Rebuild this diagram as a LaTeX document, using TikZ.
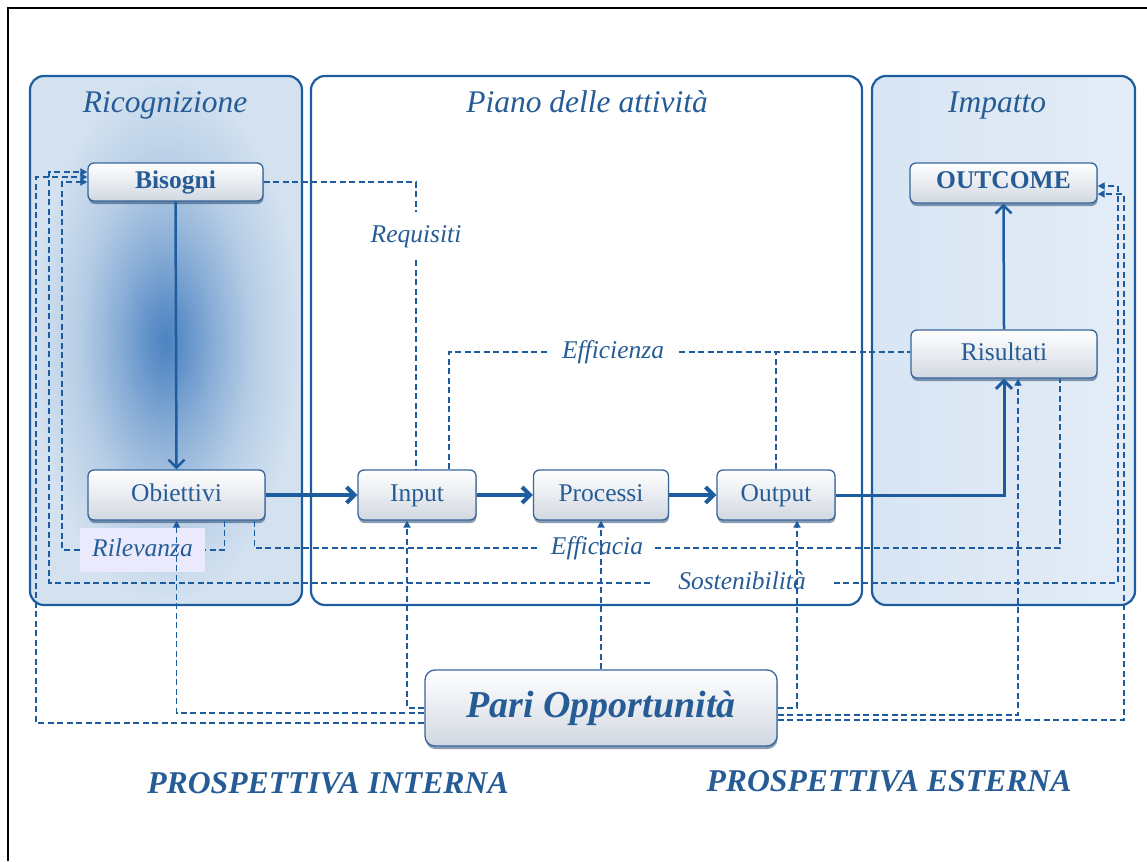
\documentclass[tikz,border=0pt]{standalone}
\usepackage{fontspec}
\setmainfont{Liberation Serif}
\usetikzlibrary{arrows.meta,shadows,calc}
\definecolor{txtblue}{RGB}{38,92,150}
\definecolor{lineblue}{RGB}{30,92,160}
\definecolor{nodeborder}{RGB}{55,100,155}
\definecolor{nodegray}{RGB}{210,216,225}
\definecolor{ricC}{RGB}{78,132,194}
\definecolor{ricE}{RGB}{212,226,240}
\definecolor{impE}{RGB}{216,229,243}
\definecolor{lav}{RGB}{234,234,252}
\pgfdeclareradialshading{ricshade}{\pgfpoint{0bp}{0bp}}{color(0bp)=(ricC); color(3bp)=(ricC!88!ricE); color(9bp)=(ricC!55!ricE); color(16bp)=(ricC!22!ricE); color(25bp)=(ricE); color(50bp)=(ricE)}
\tikzset{
  panel/.style={draw=lineblue, line width=2.2pt, rounded corners=14pt},
  box/.style={draw=nodeborder, line width=1.3pt, rounded corners=6pt, top color=white, bottom color=nodegray,
     inner sep=0pt, text=txtblue, font=\fontsize{25.5}{30}\selectfont, text height=17pt, text depth=5pt,
     drop shadow={shadow xshift=0.5pt, shadow yshift=-3pt, fill=nodeborder!75!black, opacity=0.55}},
  ptitle/.style={text=txtblue, font=\itshape\fontsize{31.5}{36}\selectfont, text height=21pt, text depth=7pt},
  lbl/.style={text=txtblue, font=\itshape\fontsize{25.5}{30}\selectfont, inner ysep=2pt, text height=17pt, text depth=5pt},
  persp/.style={text=txtblue, font=\bfseries\itshape\fontsize{31.7}{36}\selectfont},
  dsh/.style={draw=lineblue, line width=1.8pt, dash pattern=on 6pt off 3.5pt},
  dar/.style={dsh, -{Triangle[length=7pt,width=7pt]}},
  sol/.style={draw=lineblue, line width=2.5pt, -{Straight Barb[length=8pt,width=16pt]}},
  thick/.style={draw=lineblue, line width=4pt, -{Straight Barb[length=8pt,width=16pt]}}
}
\begin{document}
\begin{tikzpicture}[x=1pt,y=-1pt]
\useasboundingbox (0,0) rectangle (1147,861);
% outer frame
\draw[line width=2pt] (8,861) -- (8,8) -- (1147,8);
% panels
\shadedraw[panel, shading=ricshade] (30,76) rectangle (302,605);
\draw[panel, fill=white] (311,76) rectangle (862,605);
\shadedraw[panel, left color=impE, middle color=white, right color=impE!70!white] (872,76) rectangle (1135,605);
\node[ptitle] (tRic) at (165,106) {Ricognizione};
\node[ptitle] (tPia) at (587,106) {Piano delle attività};
\node[ptitle] (tImp) at (997,106) {Impatto};
% boxes
\node[box, font=\bfseries\fontsize{25.5}{30}\selectfont, minimum width=175pt, minimum height=38pt] (Bis) at (175.5,182) {Bisogni};
\node[box, minimum width=177pt, minimum height=50pt] (Obi) at (176.5,495) {Obiettivi};
\node[box, minimum width=118pt, minimum height=50pt] (Inp) at (417,495) {Input};
\node[box, minimum width=135pt, minimum height=50pt] (Pro) at (601,495) {Processi};
\node[box, minimum width=118pt, minimum height=50pt] (Out) at (776,495) {Output};
\node[box, minimum width=186pt, minimum height=48pt] (Ris) at (1004,354) {Risultati};
\node[box, font=\bfseries\fontsize{25.5}{30}\selectfont, minimum width=187pt, minimum height=40pt] (Outc) at (1003.5,183) {OUTCOME};
\node[box, font=\bfseries\itshape\fontsize{38}{44}\selectfont, text height=26pt, text depth=8pt, minimum width=352pt, minimum height=76pt, rounded corners=10pt] (Pari) at (601,708) {Pari Opportunità};
% labels
\node[lbl, minimum height=48pt] (lReq) at (416,236) {Requisiti};
\node[lbl, inner xsep=15pt] (lEff) at (613,352) {Efficienza};
\node[lbl, inner xsep=12pt] (lEfc) at (597,548) {Efficacia};
\node[lbl, inner xsep=28pt] (lSos) at (742,583) {Sostenibilità};
\node[lbl, fill=lav, minimum width=125pt, minimum height=44pt, inner sep=0pt] (lRil) at (142.5,550) {Rilevanza};
% dashed relations
\draw[dsh] (Bis.east) -| (lReq.north);
\draw[dsh] (lReq.south) -- (lReq.south |- Inp.north);
\draw[dsh] ($(Inp.north)+(32,0)$) |- (lEff.west);
\draw[dsh] (lEff.east) -- (lEff.east -| Ris.west);
\draw[dsh] (Out.north) -- (Out.north |- lEff.east);
\draw[dsh] ($(Obi.south)+(78,0)$) |- (lEfc.west);
\draw[dsh] (lEfc.east) -| ($(Ris.south)+(56,0)$);
\draw[dsh] ($(Obi.south)+(48,0)$) |- (lRil.east);
\draw[dar] (lRil.west) -| ($(Bis.west)+(-25,0)$) -- (Bis.west);
\draw[dar] (lSos.west) -| ($(Bis.west)+(-38,-10)$) -- ($(Bis.west)+(0,-10)$);
\draw[dar] (lSos.east) -| ($(Outc.east)+(20,3)$) -- ($(Outc.east)+(0,3)$);
% Pari Opportunita relations
\draw[dar] (Pari.north) -- (Pro.south);
\draw[dar] (Pari.west) -| ($(Inp.south)+(-10,0)$);
\draw[dar] ($(Pari.west)+(0,5)$) -| (Obi.south);
\draw[dar] ($(Pari.west)+(0,15)$) -| ($(Bis.west)+(-51,-5)$) -- ($(Bis.west)+(0,-5)$);
\draw[dar] (Pari.east) -| ($(Out.south)+(21,0)$);
\draw[dar] ($(Pari.east)+(0,7)$) -| ($(Ris.south)+(14,0)$);
\draw[dar] ($(Pari.east)+(0,12)$) -| ($(Outc.east)+(26,11)$) -- ($(Outc.east)+(0,11)$);
% solid flow
\draw[sol] (Bis.south) -- (Obi.north);
\draw[thick] (Obi.east) -- (Inp.west);
\draw[thick] (Inp.east) -- (Pro.west);
\draw[thick] (Pro.east) -- (Out.west);
\draw[sol, line width=3pt] (Out.east) -| (Ris.south);
\draw[sol] (Ris.north) -- (Outc.south);
% perspectives
\node[persp] (pInt) at (328,783) {PROSPETTIVA INTERNA};
\node[persp] (pEst) at (889,781) {PROSPETTIVA ESTERNA};
\end{tikzpicture}
\end{document}
